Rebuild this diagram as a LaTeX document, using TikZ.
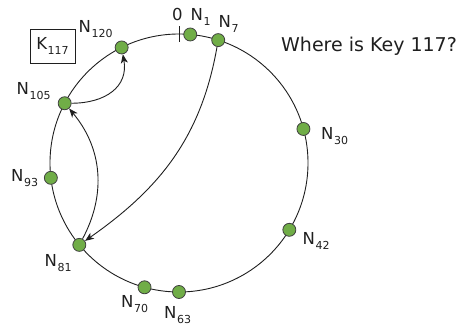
\documentclass[tikz,border=0pt]{standalone}
\usepackage{fontspec}
\setmainfont{DejaVu Sans}
\usepackage{xcolor}
\usepackage{tikz}
\usetikzlibrary{arrows.meta}
\definecolor{peer}{HTML}{70AD47}
\definecolor{ink}{HTML}{1F1F1F}
\tikzset{
  ring/.style={draw=ink,line width=0.9pt},
  peer/.style={circle,draw=ink!85,line width=0.8pt,fill=peer,minimum size=13pt,inner sep=0pt},
  hop/.style={draw=ink,line width=0.9pt,-{Stealth[length=9pt,width=7pt,inset=2.5pt]}},
  lbl/.style={anchor=base west,inner sep=0pt,text=ink,font=\fontsize{16.5}{18}\selectfont},
  keybox/.style={draw=ink,line width=0.9pt,minimum width=45pt,minimum height=34pt,inner sep=0pt,text=ink,font=\fontsize{16.5}{18}\selectfont}
}
\newcommand{\nid}[2]{#1\kern0.6pt\raisebox{-5pt}{\fontsize{11}{11}\selectfont #2}}

\begin{document}
\begin{tikzpicture}[x=1pt,y=1pt]
\useasboundingbox (0,0) rectangle (463,329);
\coordinate (c) at (179,166);
\draw[ring] (c) circle (129);
\begin{scope}[shift={(c)}]
\coordinate (zero) at (90:129);
\draw[ring] ([yshift=-8]zero) -- ([yshift=8]zero);
\node[peer] (n1) at (85:129) {};
\node[peer] (n7) at (72.3:129) {};
\node[peer] (n30) at (15.3:129) {};
\node[peer] (n42) at (-31.2:129) {};
\node[peer] (n63) at (-90:129) {};
\node[peer] (n70) at (-105.5:129) {};
\node[peer] (n81) at (-140.6:129) {};
\node[peer] (n93) at (186.6:129) {};
\node[peer] (n105) at (152.4:129) {};
\node[peer] (n120) at (116.4:129) {};
\end{scope}
% labels
\node[lbl] (l0) at (172,308) {0};
\node[lbl] (l1) at (190.5,308) {\nid{N}{1}};
\node[lbl] (l7) at (218.5,301) {\nid{N}{7}};
\node[lbl] (l30) at (321,189) {\nid{N}{30}};
\node[lbl] (l42) at (302.5,84) {\nid{N}{42}};
\node[lbl] (l63) at (164,10) {\nid{N}{63}};
\node[lbl] (l70) at (121,21) {\nid{N}{70}};
\node[lbl] (l81) at (44.5,62) {\nid{N}{81}};
\node[lbl] (l93) at (11,147.3) {\nid{N}{93}};
\node[lbl] (l105) at (16.5,234) {\nid{N}{105}};
\node[lbl] (l120) at (78.5,296) {\nid{N}{120}};
\node[keybox] (key) at (52.5,282.7) {\raisebox{2pt}{\nid{K}{117}}};
\node[lbl,font=\fontsize{19}{22}\selectfont] (ask) at (281,277.3) {Where is Key 117?};
% lookup hops
\draw[hop] (n7) to[out=-100,in=35] (n81);
\draw[hop] (n81) to[bend right=34] (n105);
\draw[hop] (n105) to[out=0,in=-80,looseness=1.2] (n120);
\end{tikzpicture}
\end{document}
